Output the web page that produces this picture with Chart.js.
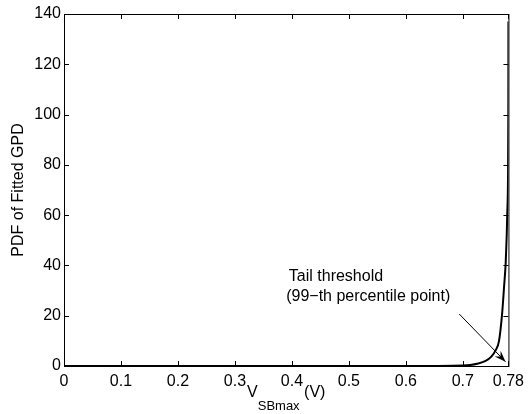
<!DOCTYPE html>
<html>
<head>
<meta charset="utf-8">
<script src="https://cdn.jsdelivr.net/npm/chart.js@4"></script>
<style>
  html, body { margin: 0; padding: 0; background: #fff; }
  #wrap { width: 530px; height: 414px; }
</style>
</head>
<body>
<div id="wrap"><canvas id="c" width="530" height="414"></canvas></div>
<script>
// values
const vsbValues = [0, 0.3, 0.6, 0.65, 0.7, 0.727, 0.74, 0.75, 0.757, 0.7635, 0.769, 0.7725, 0.7752, 0.777, 0.778, 0.7792, 0.7798, 0.78];
const pdfValues = [0, 0, 0.01, 0.04, 0.15, 1, 2, 3.7, 6, 10, 21, 32, 41, 52, 61, 74, 100, 137];
const xTicks = [0, 0.1, 0.2, 0.3, 0.4, 0.5, 0.6, 0.7, 0.78];
const yTicks = [0, 20, 40, 60, 80, 100, 120, 140];
const noteLines = ['Tail threshold', '(99\u2212th percentile point)'];

const FONT = '"Liberation Sans", Arial, sans-serif';

const points = vsbValues.map((v, i) => ({ x: v, y: pdfValues[i] }));

// MATLAB style box, inward ticks, axis label with subscript, arrow note
const matlabAxes = {
  id: 'matlabAxes',
  afterDatasetsDraw(chart) {
    const { ctx, chartArea: a, scales } = chart;
    const xs = scales.x, ys = scales.y;
    ctx.save();
    ctx.strokeStyle = '#000';
    ctx.lineWidth = 1;
    ctx.strokeRect(a.left + 0.5, a.top + 0.5, a.right - a.left, a.bottom - a.top);

    ctx.beginPath();
    const tl = 5;
    xTicks.forEach(t => {
      const px = Math.round(xs.getPixelForValue(t)) + 0.5;
      ctx.moveTo(px, a.bottom); ctx.lineTo(px, a.bottom - tl);
      ctx.moveTo(px, a.top); ctx.lineTo(px, a.top + tl);
    });
    yTicks.forEach(t => {
      const py = Math.round(ys.getPixelForValue(t)) + 0.5;
      ctx.moveTo(a.left, py); ctx.lineTo(a.left + tl, py);
      ctx.moveTo(a.right, py); ctx.lineTo(a.right - tl, py);
    });
    ctx.stroke();

    // annotation
    ctx.fillStyle = '#000';
    ctx.font = '16px ' + FONT;
    ctx.textBaseline = 'middle';
    ctx.textAlign = 'left';
    ctx.fillText(noteLines[0], xs.getPixelForValue(0.3946), ys.getPixelForValue(35.5));
    ctx.fillText(noteLines[1], xs.getPixelForValue(0.3899), ys.getPixelForValue(27.5));

    const x0 = xs.getPixelForValue(0.6936), y0 = ys.getPixelForValue(20.7);
    const x1 = xs.getPixelForValue(0.7749), y1 = ys.getPixelForValue(1.7);
    ctx.beginPath();
    ctx.moveTo(x0, y0); ctx.lineTo(x1, y1);
    ctx.stroke();
    const ang = Math.atan2(y1 - y0, x1 - x0);
    const hl = 12, hw = 0.35;
    ctx.beginPath();
    ctx.moveTo(x1, y1);
    ctx.lineTo(x1 - hl * Math.cos(ang - hw), y1 - hl * Math.sin(ang - hw));
    ctx.lineTo(x1 - hl * 0.6 * Math.cos(ang), y1 - hl * 0.6 * Math.sin(ang));
    ctx.lineTo(x1 - hl * Math.cos(ang + hw), y1 - hl * Math.sin(ang + hw));
    ctx.closePath();
    ctx.fill();

    // x axis title with subscript
    const cx = (a.left + a.right) / 2;
    ctx.textBaseline = 'middle';
    ctx.font = '16px ' + FONT;
    const wV = ctx.measureText('V').width;
    const wU = ctx.measureText(' (V)').width;
    ctx.font = '13px ' + FONT;
    const wS = ctx.measureText('SBmax').width;
    const sx = cx - (wV + wS + wU) / 2;
    ctx.font = '16px ' + FONT;
    ctx.fillText('V', sx, 393);
    ctx.font = '13px ' + FONT;
    ctx.fillText('SBmax', sx + wV, 406);
    ctx.font = '16px ' + FONT;
    ctx.fillText(' (V)', sx + wV + wS, 393);

    // y axis title
    ctx.translate(19, (a.top + a.bottom) / 2);
    ctx.rotate(-Math.PI / 2);
    ctx.textAlign = 'center';
    ctx.fillText('PDF of Fitted GPD', 0, 0);
    ctx.restore();
  }
};

new Chart(document.getElementById('c'), {
  type: 'scatter',
  data: {
    datasets: [{
      data: points,
      showLine: true,
      borderColor: '#000',
      borderWidth: 2,
      pointRadius: 0,
      cubicInterpolationMode: 'monotone'
    }]
  },
  options: {
    responsive: false,
    animation: false,
    layout: { padding: { top: 14, right: 19, left: 0, bottom: 0 } },
    plugins: { legend: { display: false }, tooltip: { enabled: false } },
    scales: {
      x: {
        type: 'linear',
        min: 0, max: 0.78,
        afterBuildTicks: s => { s.ticks = xTicks.map(v => ({ value: v })); },
        afterFit: s => { s.height = 48; },
        grid: { display: false, drawTicks: false },
        border: { display: false },
        ticks: {
          color: '#000', padding: 6, maxRotation: 0,
          font: { family: FONT, size: 16 },
          callback: v => String(v)
        }
      },
      y: {
        min: 0, max: 140,
        afterBuildTicks: s => { s.ticks = yTicks.map(v => ({ value: v })); },
        afterFit: s => { s.width = 64; },
        grid: { display: false, drawTicks: false },
        border: { display: false },
        ticks: {
          color: '#000', padding: 3,
          font: { family: FONT, size: 16 }
        }
      }
    }
  },
  plugins: [matlabAxes]
});
</script>
</body>
</html>
